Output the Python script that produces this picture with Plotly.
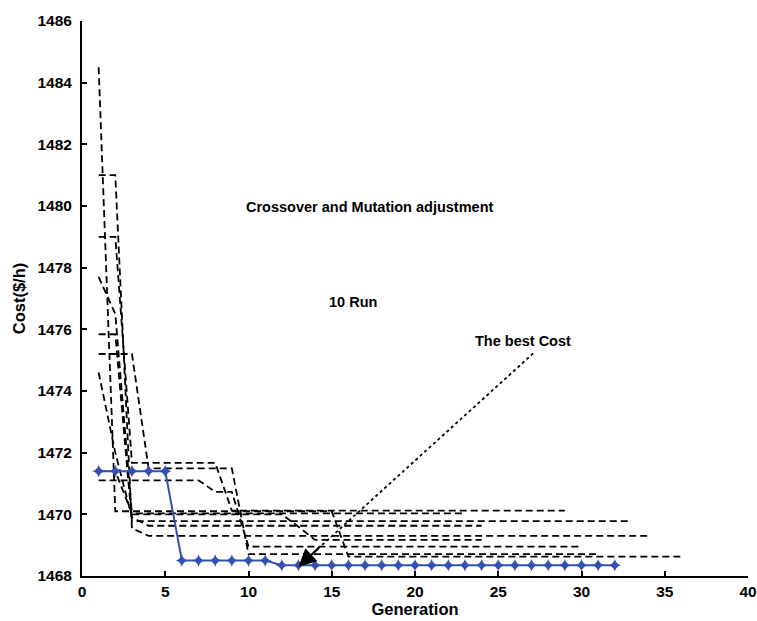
import plotly.graph_objects as go

# cost per generation for the 9 dashed runs
run1 = [1484.5, 1470.1, 1470.1, 1470.1, 1470.1, 1470.1, 1470.1, 1470.1, 1470.1,
        1470.1, 1470.1, 1470.1, 1470.1, 1470.1, 1470.1, 1468.63, 1468.63, 1468.63,
        1468.63, 1468.63, 1468.63, 1468.63, 1468.63, 1468.63, 1468.63, 1468.63,
        1468.63, 1468.63, 1468.63, 1468.63, 1468.63, 1468.63, 1468.63, 1468.63,
        1468.63, 1468.63]
run2 = [1481.0, 1481.0, 1469.55, 1469.3, 1469.3, 1469.3, 1469.3, 1469.3, 1469.3,
        1469.3, 1469.3, 1469.3, 1469.3, 1469.3, 1469.3, 1469.3, 1469.3, 1469.3,
        1469.3, 1469.3, 1469.3, 1469.3, 1469.3, 1469.3, 1469.3, 1469.3, 1469.3,
        1469.3, 1469.3, 1469.3, 1469.3, 1469.3, 1469.3, 1469.3]
run3 = [1479.0, 1479.0, 1471.67, 1471.67, 1471.67, 1471.67, 1471.67, 1471.67,
        1470.12, 1470.12, 1470.12, 1470.12, 1470.12, 1470.12, 1470.12, 1470.12,
        1470.12, 1470.12, 1470.12, 1470.12, 1470.12, 1470.12, 1470.12, 1470.12,
        1470.12, 1470.12, 1470.12, 1470.12, 1470.12]
run4 = [1477.7, 1476.5, 1470.0, 1470.0, 1470.0, 1470.0, 1470.0, 1470.0, 1470.0,
        1470.0, 1470.0, 1470.0, 1469.6, 1469.17, 1469.17, 1469.17, 1469.17,
        1469.17, 1469.17, 1469.17, 1469.17, 1469.17, 1469.17, 1469.17]
run5 = [1475.84, 1475.84, 1469.78, 1469.78, 1469.78, 1469.78, 1469.78, 1469.78,
        1469.78, 1469.78, 1469.78, 1469.78, 1469.78, 1469.78, 1469.78, 1469.78,
        1469.78, 1469.78, 1469.78, 1469.78, 1469.78, 1469.78, 1469.78, 1469.78,
        1469.78, 1469.78, 1469.78, 1469.78, 1469.78, 1469.78, 1469.78, 1469.78,
        1469.78]
run6 = [1475.2, 1475.2, 1475.2, 1471.49, 1471.49, 1471.49, 1471.49, 1471.49,
        1471.49, 1468.71, 1468.71, 1468.71, 1468.71, 1468.71, 1468.71, 1468.71,
        1468.71, 1468.71, 1468.71, 1468.71, 1468.71, 1468.71, 1468.71, 1468.71,
        1468.71, 1468.71, 1468.71, 1468.71, 1468.71, 1468.71, 1468.71]
run7 = [1474.6, 1472.0, 1469.9, 1469.63, 1469.63, 1469.63, 1469.63, 1469.63,
        1469.63, 1469.63, 1469.63, 1469.63, 1469.63, 1469.63, 1469.63, 1469.63,
        1469.63, 1469.63, 1469.63, 1469.63, 1469.63, 1469.63, 1469.63, 1469.63]
run8 = [1471.1, 1471.1, 1471.1, 1471.1, 1471.1, 1471.1, 1471.1, 1470.73, 1470.73,
        1468.95, 1468.95, 1468.95, 1468.95, 1468.95, 1468.95, 1468.95, 1468.95,
        1468.95, 1468.95, 1468.95, 1468.95, 1468.95, 1468.95, 1468.95, 1468.95,
        1468.95, 1468.95, 1468.95, 1468.95, 1468.95]
run9 = [1471.4, 1471.4, 1470.03, 1470.03, 1470.03, 1470.03, 1470.03, 1470.03,
        1470.03, 1470.03, 1470.03, 1470.03, 1470.03, 1470.03, 1470.03, 1470.03,
        1470.03, 1470.03, 1470.03, 1470.03, 1470.03, 1470.03, 1470.03]

# best run (blue with markers)
best_run = [1471.4, 1471.4, 1471.4, 1471.4, 1471.4, 1468.5, 1468.5, 1468.5, 1468.5,
            1468.5, 1468.5, 1468.35, 1468.35, 1468.35, 1468.35, 1468.35, 1468.35,
            1468.35, 1468.35, 1468.35, 1468.35, 1468.35, 1468.35, 1468.35, 1468.35,
            1468.35, 1468.35, 1468.35, 1468.35, 1468.35, 1468.35, 1468.35]

runs = [run1, run2, run3, run4, run5, run6, run7, run8, run9]

FONT = "Liberation Sans, Arial, Helvetica, sans-serif"

fig = go.Figure()

for i, run in enumerate(runs):
    fig.add_trace(go.Scatter(
        x=list(range(1, len(run) + 1)),
        y=run,
        mode='lines',
        line=dict(color='black', width=1.8, dash='7px,4px'),
        name=f'Run {i + 1}',
        showlegend=False
    ))

fig.add_trace(go.Scatter(
    x=list(range(1, len(best_run) + 1)),
    y=best_run,
    mode='lines+markers',
    line=dict(color='#3352b0', width=2),
    marker=dict(symbol='star-diamond', size=9, color='#3352b0'),
    name='Best',
    showlegend=False
))

# dotted pointer line to the best cost
fig.add_shape(type='line', x0=27.1, y0=1475.22, x1=14.0, y1=1468.8,
              line=dict(color='black', width=1.8, dash='dot'))
fig.add_annotation(x=13.0, y=1468.3, ax=14.3, ay=1468.95,
                   xref='x', yref='y', axref='x', ayref='y',
                   text='', showarrow=True, arrowhead=2, arrowsize=1.6,
                   arrowwidth=2.2, arrowcolor='black')

label_font = dict(family=FONT, size=14.5, color='black', weight='bold')
fig.add_annotation(x=17.3, y=1479.97, text='Crossover and Mutation adjustment',
                   showarrow=False, font=label_font)
fig.add_annotation(x=16.3, y=1476.9, text='10 Run', showarrow=False, font=label_font)
fig.add_annotation(x=26.46, y=1475.63, text='The best Cost', showarrow=False, font=label_font)

tick_font = dict(family=FONT, size=15.5, color='black', weight='bold')
title_font = dict(family=FONT, size=16.5, color='black', weight='bold')

fig.update_layout(
    width=757,
    height=621,
    margin=dict(l=82, r=9, t=21, b=45),
    paper_bgcolor='white',
    plot_bgcolor='white',
    font=dict(family=FONT, size=13, color='black'),
    xaxis=dict(
        range=[0, 40],
        dtick=5,
        automargin=False,
        showgrid=False,
        zeroline=False,
        showline=True,
        linecolor='black',
        linewidth=2,
        ticks='inside',
        ticklen=5,
        tickwidth=1.5,
        tickcolor='black',
        ticklabelstandoff=0,
        tickfont=tick_font,
        title=dict(text='Generation', standoff=0, font=title_font),
    ),
    yaxis=dict(
        range=[1468, 1486],
        dtick=2,
        automargin=False,
        showgrid=False,
        zeroline=False,
        showline=True,
        linecolor='black',
        linewidth=2,
        ticks='inside',
        ticklen=5,
        tickwidth=1.5,
        tickcolor='black',
        tickformat='d',
        ticklabelstandoff=5,
        tickfont=tick_font,
        title=dict(text='Cost($/h)', standoff=8, font=title_font),
    ),
)

# drop the default page margin so the figure sits at the window's corner
fig.write_html("out.html",
               config={'displayModeBar': False},
               post_script="document.body.style.margin='0';document.body.style.overflow='hidden';")
